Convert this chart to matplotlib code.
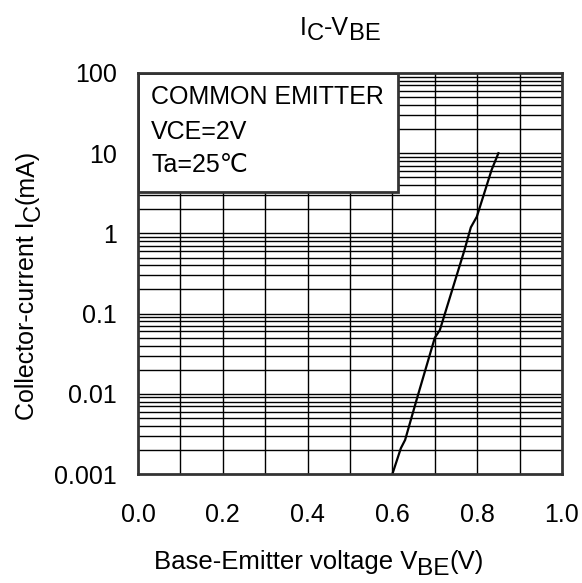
import matplotlib
matplotlib.use('Agg')
import matplotlib.pyplot as plt
from matplotlib.patches import Rectangle

plt.rcParams['font.family'] = ['Liberation Sans', 'DejaVu Sans']

# data
vbe = [0.60, 0.62, 0.63, 0.657, 0.70, 0.712, 0.77, 0.785, 0.799, 0.834, 0.85]
ic = [0.001, 0.0021, 0.00266, 0.0084, 0.05, 0.0625, 0.62, 1.19, 1.61, 6.2, 10.0]

x_ticks = [0.0, 0.2, 0.4, 0.6, 0.8, 1.0]
y_ticks = [0.001, 0.01, 0.1, 1, 10, 100]
y_labels = ['0.001', '0.01', '0.1', '1', '10', '100']
box_lines = ['COMMON EMITTER', 'VCE=2V', 'Ta=25℃']

W, H = 582, 583
FS = 18


def rich_text(fig, x, y, pieces, size, rotation=0, drop=6, sub_scale=0.95):
    # pieces: (text, is_subscript); (x, y) = centre along baseline, in pixels
    r = fig.canvas.get_renderer()
    widths = []
    for s, sub in pieces:
        t = fig.text(0, 0, s, fontsize=size * (sub_scale if sub else 1))
        widths.append(t.get_window_extent(r).width)
        t.remove()
    pos = -sum(widths) / 2
    for (s, sub), w in zip(pieces, widths):
        fs = size * (sub_scale if sub else 1)
        if rotation == 0:
            px, py = x + pos, y - (drop if sub else 0)
        else:
            px, py = x + (drop if sub else 0), y + pos
        fig.text(px / W, py / H, s, fontsize=fs, rotation=rotation,
                 rotation_mode='anchor', ha='left', va='baseline')
        pos += w


fig = plt.figure(figsize=(W / 100, H / 100), dpi=100)
ax = fig.add_axes([138 / W, 109 / H, 424 / W, 401 / H])

ax.set_yscale('log')
ax.set_xlim(0, 1.0)
ax.set_ylim(0.001, 100)

# grid: vertical every 0.1, horizontal 1..9 per decade
for i in range(1, 10):
    ax.axvline(i / 10, color='black', lw=1.0, zorder=1)
for d in range(-3, 2):
    for m in range(1, 10):
        v = m * 10.0 ** d
        if 0.001 < v < 100:
            ax.axhline(v, color='black', lw=1.0, zorder=1)

ax.plot(vbe, ic, color='black', lw=1.6, zorder=3)

ax.set_xticks(x_ticks)
ax.set_xticklabels([f'{v:.1f}' for v in x_ticks])
ax.set_yticks(y_ticks)
ax.set_yticklabels(y_labels)
ax.minorticks_off()
ax.tick_params(length=0, labelsize=FS)
ax.tick_params(axis='y', pad=15)
ax.tick_params(axis='x', pad=21)
for s in ax.spines.values():
    s.set_linewidth(2.0)
    s.set_color('#333333')
    s.set_zorder(5)

# info box
ax.add_patch(Rectangle((0, 0.704), 0.613, 0.296, transform=ax.transAxes,
                       facecolor='white', edgecolor='#333333', lw=2.0, zorder=4))
for txt, yy in zip(box_lines, [0.940, 0.853, 0.771]):
    ax.text(0.031, yy, txt, transform=ax.transAxes, fontsize=FS,
            va='center', ha='left', zorder=6)

rich_text(fig, 340, H - 35, [('I', False), ('C', True), ('-V', False), ('BE', True)], FS, drop=5)
rich_text(fig, 319, H - 569, [('Base-Emitter voltage V', False), ('BE', True), ('(V)', False)],
          18.5)
rich_text(fig, 34, H - 285, [('Collector-current I', False), ('C', True), ('(mA)', False)],
          FS, rotation=90)

fig.savefig('out.png', dpi=100)
